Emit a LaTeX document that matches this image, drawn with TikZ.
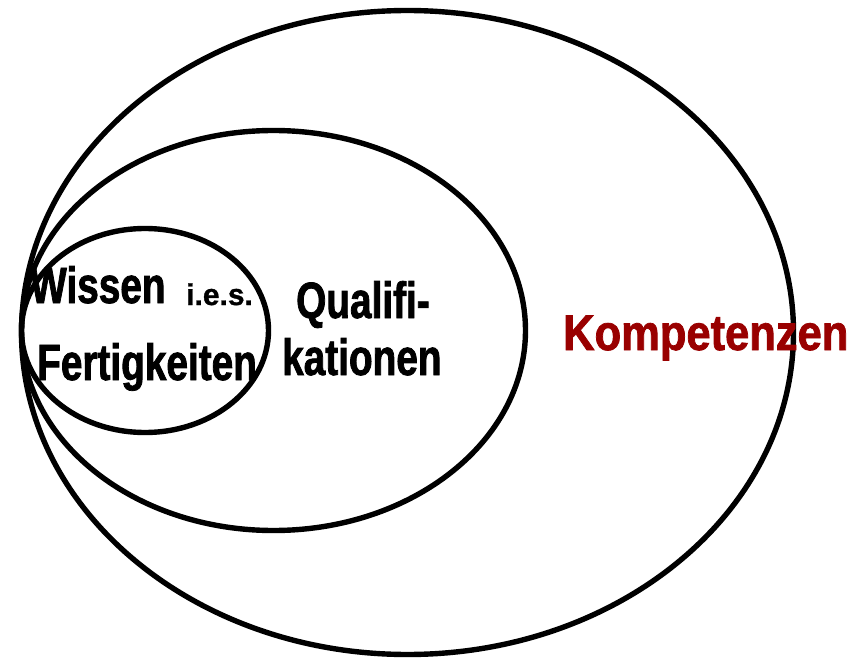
\documentclass[tikz,border=0pt]{standalone}
\usepackage{fontspec}
\usetikzlibrary{shapes.geometric}
\newfontfamily\narrowsans[FakeStretch=0.76,FakeBold=1.5]{Liberation Sans}
\newfontfamily\widesans[FakeStretch=0.87,FakeBold=1.5]{Liberation Sans}
\newfontfamily\plainsans[FakeBold=1]{Liberation Sans}
\definecolor{kompred}{RGB}{153,0,0}
\tikzset{
  ring/.style={draw=black, line width=5.4pt, ellipse, inner sep=0pt, fill=none},
  lbl/.style={anchor=base west, inner sep=0pt, font=\narrowsans\bfseries\fontsize{51}{51}\selectfont},
  small/.style={anchor=base west, inner sep=0pt, font=\plainsans\bfseries\fontsize{30}{30}\selectfont},
  klbl/.style={anchor=base west, inner sep=0pt, text=kompred, font=\widesans\bfseries\fontsize{50}{50}\selectfont}
}
\begin{document}
\begin{tikzpicture}[x=1pt,y=-1pt]
\useasboundingbox (0,0) rectangle (863,658);
\node[ring, minimum width=772pt, minimum height=644pt] (outer) at (407.5,332.5) {};
\node[ring, minimum width=504pt, minimum height=400pt] (middle) at (273.5,330.5) {};
\node[ring, minimum width=247pt, minimum height=204pt] (inner) at (145,330.5) {};
\node[lbl] (wissen) at (30,303) {Wissen};
\node[small] (ies) at (186,305) {i.e.s.};
\node[lbl] (fertig) at (37,380) {Fertigkeiten};
\node[lbl] (quali) at (296,318) {Qualifi-};
\node[lbl] (kation) at (282,375) {kationen};
\node[klbl] (kompetenz) at (563,350) {Kompetenzen};
\end{tikzpicture}
\end{document}
